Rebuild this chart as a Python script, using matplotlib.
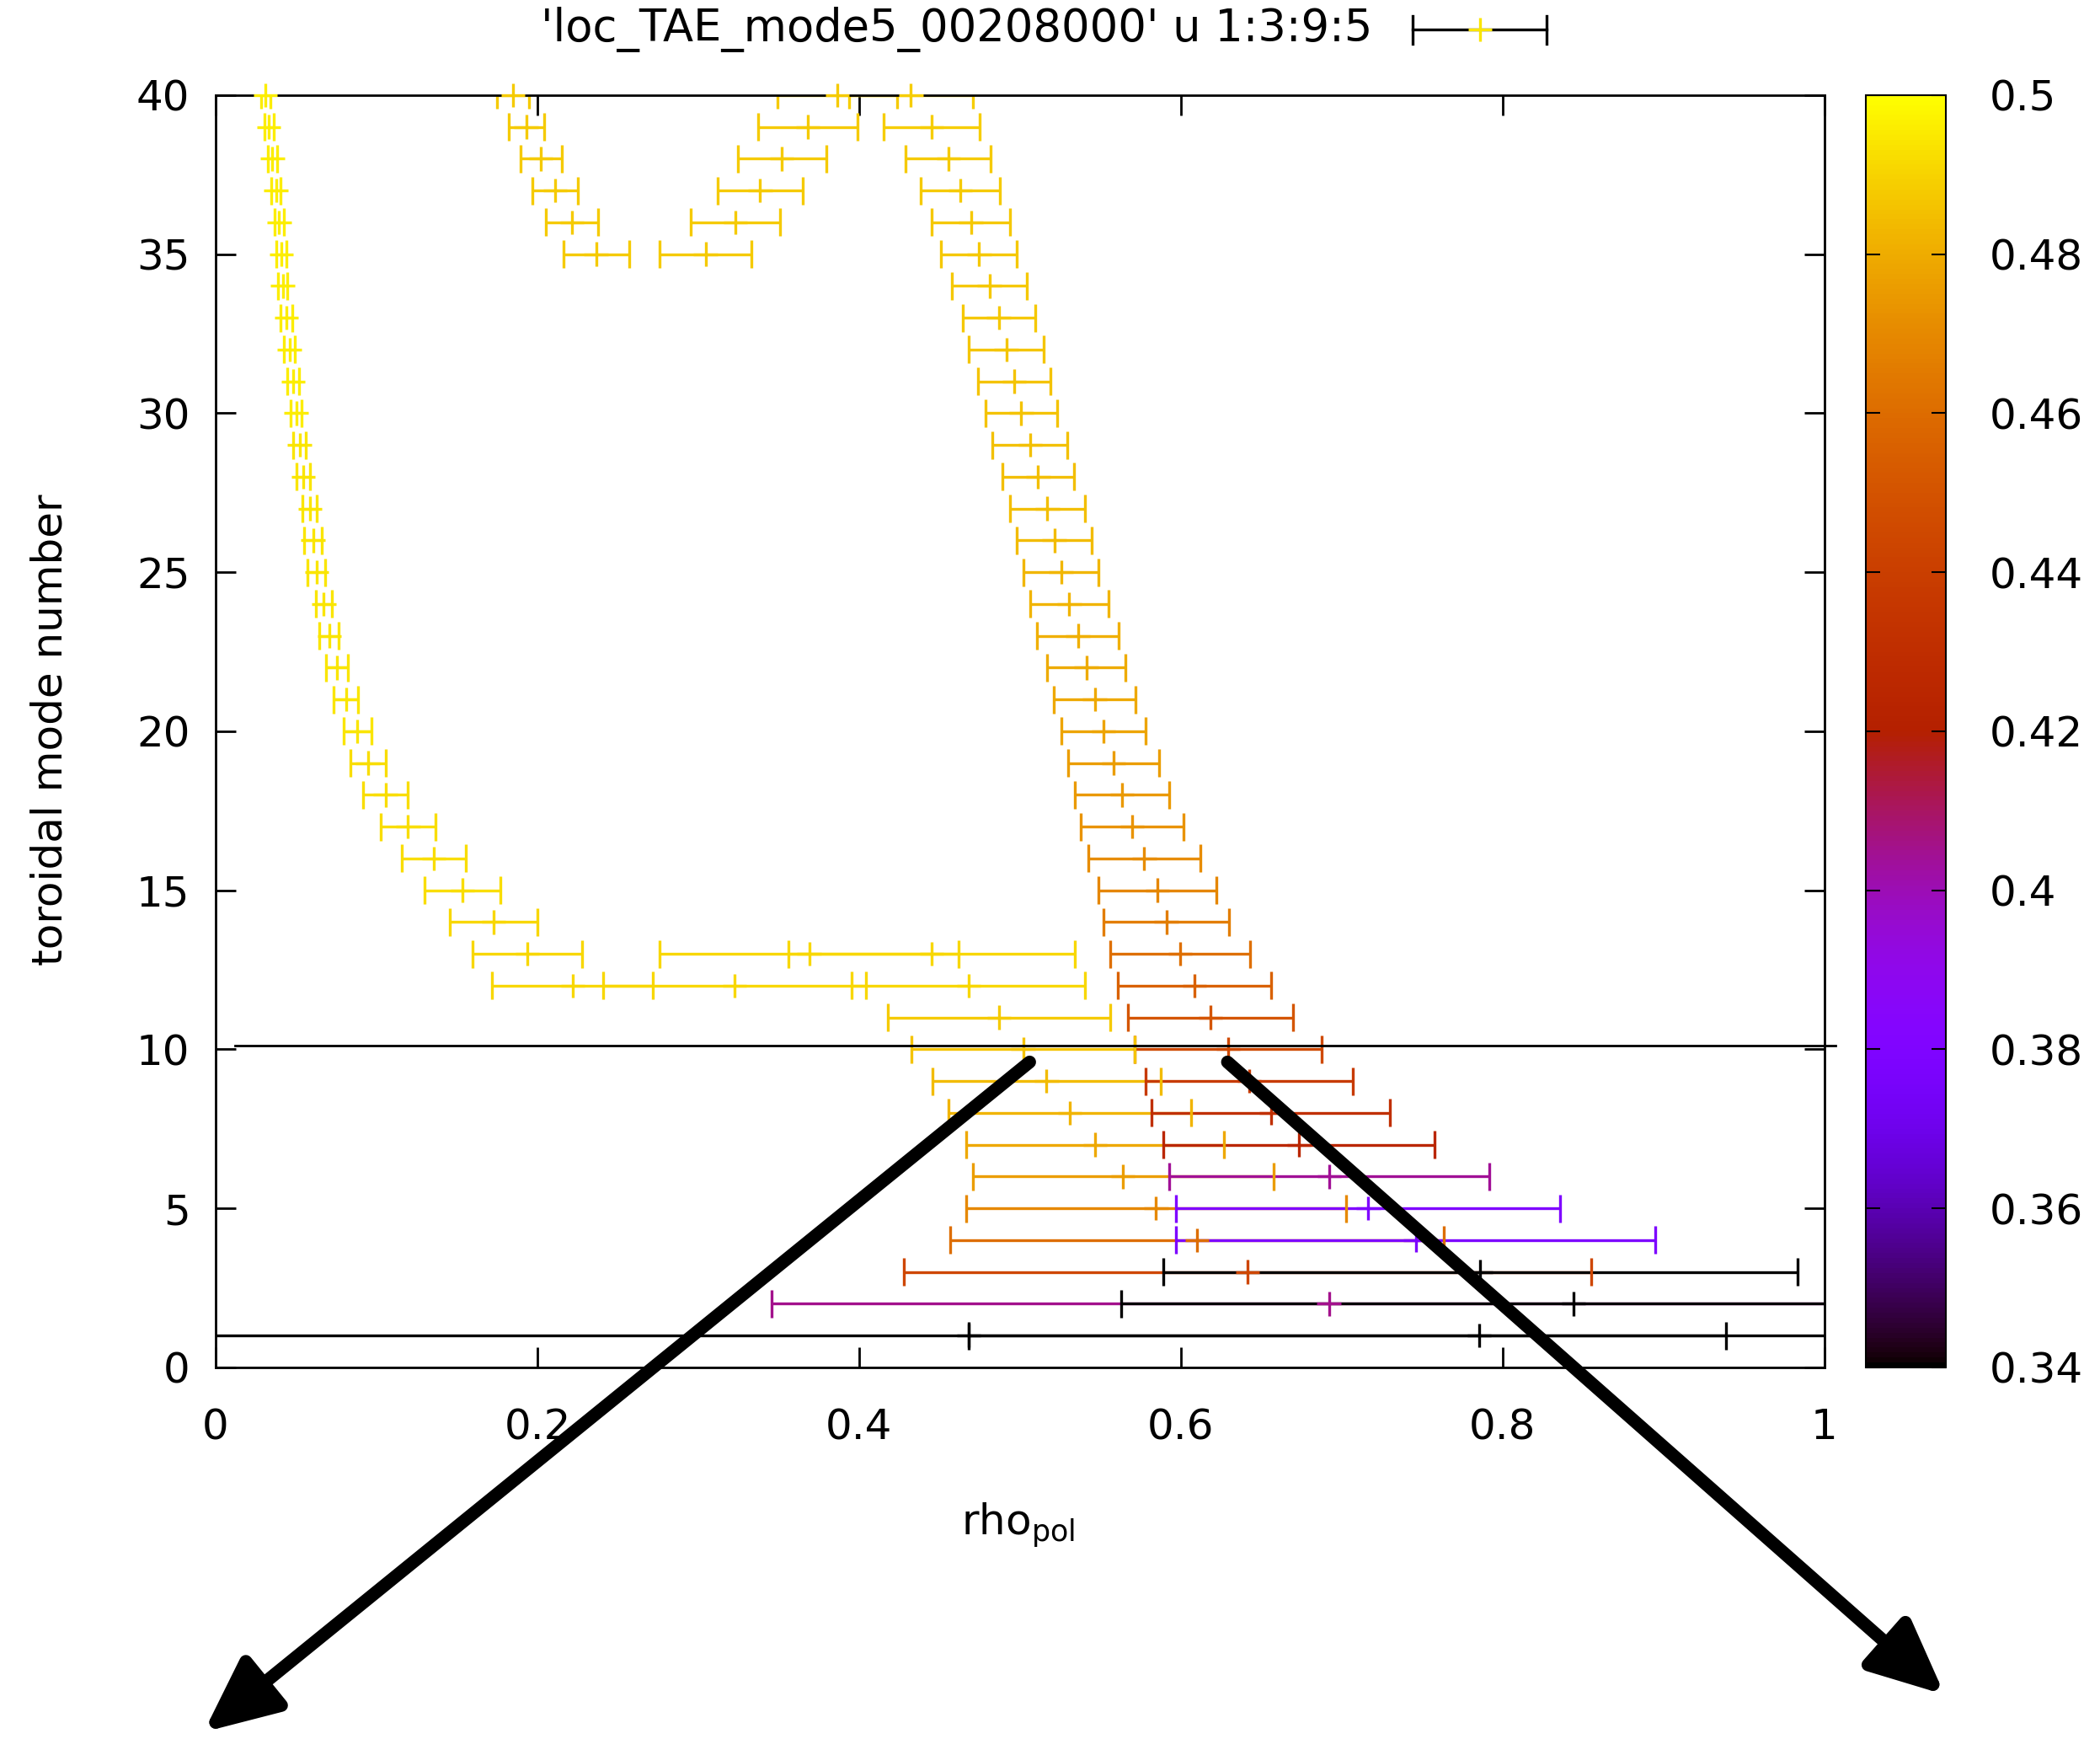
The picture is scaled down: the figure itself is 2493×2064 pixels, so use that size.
import matplotlib

matplotlib.use("Agg")

import matplotlib.pyplot as plt
import numpy as np
from matplotlib.colors import Normalize
from matplotlib.lines import Line2D
from matplotlib.ticker import FormatStrFormatter

plt.rcParams["font.family"] = ["DejaVu Sans"]

# toroidal mode number n, radial position rho_pol, half width, frequency (colour)
left_n = [40, 39, 38, 37, 36, 35, 34, 33, 32, 31, 30, 29, 28, 27, 26,
          25, 24, 23, 22, 21, 20, 19, 18, 17, 16, 15, 14, 13, 12]
left_rho = [0.031, 0.0331, 0.0353, 0.0375, 0.0395, 0.0408, 0.0417, 0.0439,
            0.0459, 0.0481, 0.0501, 0.0521, 0.0545, 0.0585, 0.0605, 0.0628,
            0.0672, 0.0706, 0.0754, 0.0809, 0.0882, 0.0946, 0.1056, 0.1196,
            0.1355, 0.1535, 0.1727, 0.1938, 0.2219]
left_dx = [0.003, 0.003, 0.003, 0.003, 0.003, 0.003, 0.003, 0.0035, 0.0035,
           0.0035, 0.0035, 0.004, 0.004, 0.0045, 0.0055, 0.0055, 0.005, 0.006,
           0.0068, 0.0075, 0.0087, 0.011, 0.014, 0.017, 0.020, 0.0234, 0.0274,
           0.034, 0.050]
left_freq = [0.496, 0.496, 0.496, 0.496, 0.496, 0.496, 0.496, 0.496, 0.496,
             0.496, 0.496, 0.494, 0.494, 0.494, 0.494, 0.494, 0.494, 0.494,
             0.494, 0.494, 0.494, 0.492, 0.492, 0.492, 0.492, 0.492, 0.491,
             0.491, 0.491]

arc_a_n = [40, 39, 38, 37, 36, 35]
arc_a_rho = [0.1848, 0.193, 0.2022, 0.2110, 0.2215, 0.2365]
arc_a_dx = [0.010, 0.011, 0.0128, 0.014, 0.016, 0.0205]
arc_a_freq = [0.488, 0.488, 0.488, 0.488, 0.488, 0.488]

arc_b_n = [40, 39, 38, 37, 36, 35]
arc_b_rho = [0.3865, 0.368, 0.352, 0.3385, 0.3230, 0.3045]
arc_b_dx = [0.037, 0.031, 0.0276, 0.0265, 0.0277, 0.0287]
arc_b_freq = [0.488, 0.488, 0.488, 0.488, 0.488, 0.488]

mid_n = [13, 13, 12, 12]
mid_rho = [0.369, 0.445, 0.3225, 0.468]
mid_dx = [0.093, 0.089, 0.0815, 0.0725]
mid_freq = [0.491, 0.491, 0.491, 0.491]

low_n = [11, 10, 9, 8, 7, 6, 5, 4, 3, 2, 1]
low_rho = [0.487, 0.502, 0.5165, 0.531, 0.5467, 0.564, 0.5846, 0.610,
           0.6415, 0.692, 0.468]
low_dx = [0.069, 0.0695, 0.0708, 0.0752, 0.0803, 0.0935, 0.118, 0.1535,
          0.2135, 0.3463, 0.471]
low_freq = [0.488, 0.486, 0.484, 0.482, 0.479, 0.476, 0.470, 0.460, 0.444,
            0.405, 0.34]

right_n = [40, 39, 38, 37, 36, 35, 34, 33, 32, 31, 30, 29, 28, 27, 26, 25,
           24, 23, 22, 21, 20, 19, 18, 17, 16, 15, 14, 13, 12, 11, 10, 9, 8,
           7, 6, 5, 4, 3, 2, 1]
right_rho = [0.4322, 0.445, 0.4555, 0.463, 0.4695, 0.4746, 0.481, 0.4868,
             0.4915, 0.4963, 0.5008, 0.5063, 0.5113, 0.517, 0.5213, 0.5255,
             0.5307, 0.536, 0.5413, 0.5465, 0.5518, 0.5582, 0.5635, 0.5697,
             0.5772, 0.5855, 0.591, 0.5995, 0.6085, 0.6185, 0.6295, 0.6425,
             0.656, 0.6733, 0.6923, 0.7165, 0.746, 0.7862, 0.844, 0.7855]
right_dx = [0.0383, 0.030, 0.0265, 0.0245, 0.0245, 0.0235, 0.0233, 0.0225,
            0.0235, 0.0225, 0.0223, 0.0233, 0.0223, 0.0232, 0.0233, 0.0234,
            0.0243, 0.0255, 0.0243, 0.0255, 0.0263, 0.0285, 0.0295, 0.0318,
            0.0347, 0.0365, 0.039, 0.0435, 0.0475, 0.0515, 0.058, 0.0645,
            0.074, 0.0843, 0.0993, 0.1195, 0.149, 0.197, 0.281, 0.3175]
right_freq = [0.4885, 0.4885, 0.488, 0.488, 0.4875, 0.4875, 0.487, 0.487,
              0.4865, 0.486, 0.486, 0.4855, 0.485, 0.4845, 0.484, 0.483, 0.482,
              0.481, 0.480, 0.479, 0.478, 0.476, 0.475, 0.473, 0.471, 0.469,
              0.466, 0.461, 0.456, 0.451, 0.445, 0.438, 0.431, 0.425, 0.404,
              0.38, 0.378, 0.34, 0.34, 0.34]

x_ticks = [0, 0.2, 0.4, 0.6, 0.8, 1]
y_ticks = [0, 5, 10, 15, 20, 25, 30, 35, 40]
cb_ticks = [0.34, 0.36, 0.38, 0.40, 0.42, 0.44, 0.46, 0.48, 0.50]

marker_line_n = 10.13
marker_line_x = [0.012, 1.007]
legend_text = "'loc_TAE_mode5_00208000' u 1:3:9:5"

n = np.concatenate([left_n, arc_a_n, arc_b_n, mid_n, low_n, right_n]).astype(float)
rho = np.concatenate([left_rho, arc_a_rho, arc_b_rho, mid_rho, low_rho, right_rho])
dx = np.concatenate([left_dx, arc_a_dx, arc_b_dx, mid_dx, low_dx, right_dx])
freq = np.concatenate([left_freq, arc_a_freq, arc_b_freq, mid_freq, low_freq, right_freq])

cmap = plt.get_cmap("gnuplot")
norm = Normalize(vmin=0.34, vmax=0.5)
LW = 2.4
FS = 36

fig = plt.figure(figsize=(24.93, 20.64), dpi=100)
ax = fig.add_axes([0.1027, 0.2137, 0.7660, 0.7316])
cax = fig.add_axes([0.8885, 0.2137, 0.0381, 0.7316])

# gnuplot draws every bar first, then the point symbols on top
ax.hlines(n, rho - dx, rho + dx, colors=cmap(norm(freq)), linewidth=LW, zorder=2)
ax.scatter(np.r_[rho - dx, rho + dx], np.r_[n, n], marker="|", s=560,
           c=np.r_[freq, freq], cmap=cmap, norm=norm, linewidths=LW, zorder=2)
sc = ax.scatter(rho, n, marker="+", s=420, c=freq, cmap=cmap, norm=norm,
                linewidths=LW, zorder=3, clip_on=False)

ax.plot(marker_line_x, [marker_line_n, marker_line_n], color="black",
        lw=2, zorder=4, clip_on=False)

ax.set_xlim(0, 1)
ax.set_ylim(0, 40)
ax.set_xticks(x_ticks)
ax.set_yticks(y_ticks)
ax.xaxis.set_major_formatter(FormatStrFormatter("%g"))
ax.tick_params(direction="in", length=17, width=2, top=True, right=True,
               labelsize=FS)
ax.tick_params(axis="x", pad=34)
ax.tick_params(axis="y", pad=22)
for spine in ax.spines.values():
    spine.set_linewidth(2)

ax.set_xlabel(r"rho$_{\mathregular{pol}}$", fontsize=FS, va="baseline")
ax.xaxis.set_label_coords(0.4987, -0.132)
ax.set_ylabel("toroidal mode number", fontsize=FS, va="center")
ax.yaxis.set_label_coords(-0.103, 0.501)

cb = fig.colorbar(sc, cax=cax)
cb.set_ticks(cb_ticks)
cb.ax.yaxis.set_major_formatter(FormatStrFormatter("%g"))
cb.ax.tick_params(direction="in", left=True, right=True, length=12, width=1.5,
                  labelsize=FS, pad=37)
cb.outline.set_linewidth(1.5)

# key in the top line
fig.text(0.6537, 0.983, legend_text, ha="right", va="center", fontsize=38)
key_y = 0.983
fig.add_artist(Line2D([0.6728, 0.7366], [key_y, key_y], color="black", lw=LW))
for kx in (0.6728, 0.7366):
    fig.add_artist(Line2D([kx, kx], [key_y - 0.008, key_y + 0.008],
                          color="black", lw=LW))
fig.add_artist(Line2D([0.7048], [key_y], marker="+", ms=20, mew=LW,
                      color=cmap(norm(0.494)), linestyle="none"))

# the two pointer arrows
arrow_style = dict(arrowstyle="-|>,head_length=2.4,head_width=1.1",
                   mutation_scale=22, lw=11, color="black", shrinkA=0, shrinkB=0)
ax.annotate("", xy=(0.097, 0.004), xycoords="figure fraction",
            xytext=(0.506, 9.6), textcoords="data", arrowprops=arrow_style,
            annotation_clip=False)
ax.annotate("", xy=(0.926, 0.0255), xycoords="figure fraction",
            xytext=(0.629, 9.6), textcoords="data", arrowprops=arrow_style,
            annotation_clip=False)

fig.savefig("out.png", dpi=100)
plt.close(fig)
